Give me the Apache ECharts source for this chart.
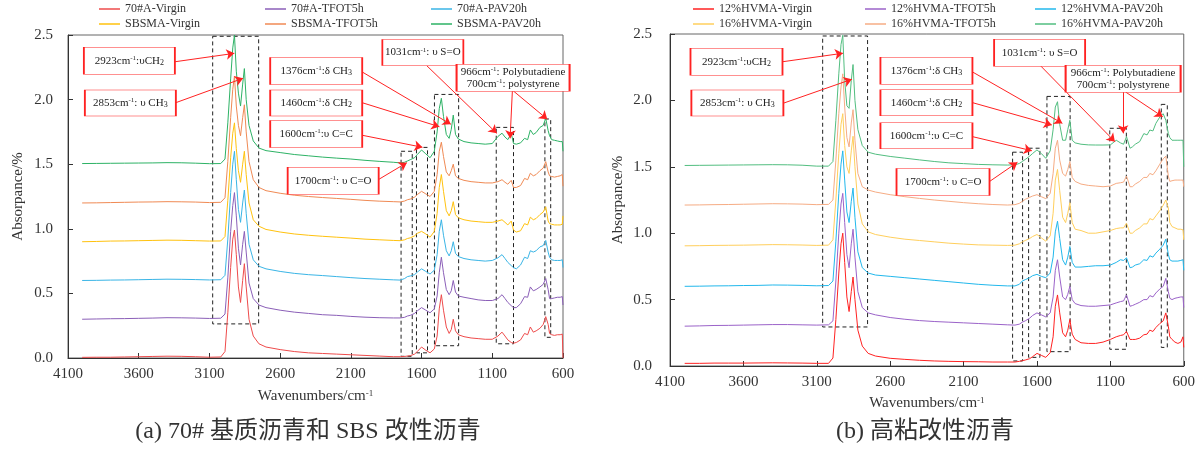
<!DOCTYPE html>
<html>
<head>
<meta charset="utf-8">
<script src="https://cdn.jsdelivr.net/npm/echarts@6/dist/echarts.min.js"></script>
<style>
  html, body { margin: 0; padding: 0; background: #fff; }
  #chart { width: 1198px; height: 450px; }
</style>
</head>
<body>
<div id="chart"></div>
<script>
// wavenumber grid shared by every spectrum (cm-1, high to low)
const wavenumbers = [
  4000, 3900, 3800, 3700, 3600, 3500, 3400, 3300, 3200, 3100,
  3020, 2990, 2970, 2950, 2935, 2923, 2910, 2895, 2880, 2865,
  2853, 2840, 2820, 2790, 2750, 2700, 2600, 2500, 2400, 2300,
  2200, 2100, 2000, 1900, 1800, 1750, 1720, 1700, 1680, 1650,
  1630, 1600, 1570, 1540, 1510, 1490, 1475, 1460, 1445, 1425,
  1405, 1390, 1376, 1360, 1340, 1300, 1250, 1200, 1150, 1100,
  1060, 1031, 1010, 990, 966, 950, 930, 900, 872, 850,
  831, 810, 790, 763, 740, 722, 705, 695, 680, 660,
  640, 620, 605, 600
]
const xTicks = [4100, 3600, 3100, 2600, 2100, 1600, 1100, 600]

// (a) 70# base asphalt and SBS modified asphalt
const namesA = ['70#A-Virgin', '70#A-TFOT5h', '70#A-PAV20h', 'SBSMA-Virgin', 'SBSMA-TFOT5h', 'SBSMA-PAV20h']
const a70Virgin = [
  0.005, 0.006, 0.006, 0.008, 0.010, 0.012, 0.014, 0.013, 0.010, 0.006,
  0.008, 0.05, 0.35, 0.70, 0.92, 0.99, 0.80, 0.55, 0.43, 0.60,
  0.73, 0.55, 0.30, 0.17, 0.11, 0.085, 0.065, 0.05, 0.04, 0.035,
  0.03, 0.025, 0.02, 0.015, 0.01, 0.01, 0.012, 0.015, 0.018, 0.03,
  0.05, 0.085, 0.06, 0.04, 0.07, 0.17, 0.38, 0.49, 0.37, 0.24,
  0.19, 0.22, 0.30, 0.21, 0.18, 0.165, 0.155, 0.15, 0.145, 0.145,
  0.17, 0.2, 0.17, 0.14, 0.12, 0.115, 0.12, 0.14, 0.19, 0.18,
  0.24, 0.2, 0.21, 0.23, 0.26, 0.32, 0.26, 0.19, 0.18, 0.175,
  0.18, 0.18, 0.185, 0.0
]
const a70Tfot = [
  0.300, 0.302, 0.304, 0.305, 0.307, 0.309, 0.312, 0.311, 0.309, 0.306,
  0.308, 0.34, 0.62, 0.98, 1.18, 1.28, 1.10, 0.85, 0.72, 0.88,
  0.98, 0.82, 0.58, 0.46, 0.41, 0.39, 0.37, 0.355, 0.345, 0.335,
  0.33, 0.322, 0.316, 0.312, 0.31, 0.31, 0.315, 0.325, 0.33, 0.345,
  0.365, 0.39, 0.37, 0.35, 0.38, 0.48, 0.66, 0.78, 0.66, 0.53,
  0.49, 0.52, 0.60, 0.51, 0.48, 0.47, 0.46, 0.45, 0.445, 0.445,
  0.46, 0.49, 0.46, 0.43, 0.405, 0.39, 0.39, 0.42, 0.475, 0.47,
  0.55, 0.52, 0.53, 0.55, 0.57, 0.615, 0.53, 0.46, 0.46, 0.465,
  0.47, 0.47, 0.475, 0.41
]
const a70Pav = [
  0.600, 0.601, 0.603, 0.604, 0.606, 0.608, 0.610, 0.609, 0.607, 0.604,
  0.606, 0.64, 0.92, 1.28, 1.50, 1.60, 1.38, 1.15, 1.05, 1.20,
  1.30, 1.12, 0.88, 0.76, 0.71, 0.69, 0.67, 0.655, 0.645, 0.638,
  0.63, 0.622, 0.615, 0.61, 0.605, 0.603, 0.615, 0.63, 0.635, 0.645,
  0.665, 0.69, 0.67, 0.65, 0.68, 0.80, 0.98, 1.07, 0.95, 0.83,
  0.79, 0.83, 0.90, 0.81, 0.785, 0.77, 0.76, 0.755, 0.75, 0.755,
  0.775, 0.80, 0.77, 0.74, 0.715, 0.70, 0.69, 0.72, 0.78, 0.77,
  0.83, 0.82, 0.83, 0.86, 0.87, 0.91, 0.82, 0.78, 0.76, 0.755,
  0.755, 0.755, 0.76, 0.70
]
const sbsVirgin = [
  0.900, 0.902, 0.905, 0.906, 0.908, 0.91, 0.912, 0.911, 0.908, 0.905,
  0.906, 0.94, 1.22, 1.55, 1.74, 1.82, 1.62, 1.45, 1.36, 1.50,
  1.60, 1.42, 1.20, 1.07, 1.02, 0.995, 0.975, 0.96, 0.95, 0.942,
  0.935, 0.928, 0.92, 0.915, 0.91, 0.908, 0.915, 0.925, 0.93, 0.945,
  0.965, 0.98, 0.96, 0.935, 0.98, 1.12, 1.32, 1.42, 1.29, 1.14,
  1.10, 1.14, 1.21, 1.11, 1.085, 1.07, 1.06, 1.055, 1.05, 1.05,
  1.06, 1.07, 1.05, 1.03, 1.06, 0.99, 0.975, 0.985, 1.04, 1.03,
  1.09, 1.07, 1.08, 1.11, 1.13, 1.17, 1.06, 1.04, 1.035, 1.03,
  1.03, 1.03, 1.035, 1.10
]
const sbsTfot = [
  1.200, 1.201, 1.203, 1.205, 1.207, 1.208, 1.21, 1.209, 1.207, 1.203,
  1.205, 1.24, 1.52, 1.86, 2.08, 2.18, 1.95, 1.80, 1.72, 1.86,
  1.96, 1.75, 1.52, 1.38, 1.32, 1.295, 1.275, 1.26, 1.25, 1.242,
  1.235, 1.228, 1.22, 1.214, 1.21, 1.208, 1.215, 1.225, 1.23, 1.245,
  1.265, 1.29, 1.27, 1.25, 1.29, 1.42, 1.60, 1.67, 1.56, 1.44,
  1.41, 1.45, 1.50, 1.41, 1.39, 1.375, 1.365, 1.36, 1.355, 1.355,
  1.365, 1.38, 1.36, 1.345, 1.375, 1.32, 1.32, 1.335, 1.39, 1.38,
  1.43, 1.41, 1.42, 1.45, 1.47, 1.52, 1.44, 1.41, 1.405, 1.40,
  1.405, 1.41, 1.42, 1.33
]
const sbsPav = [
  1.505, 1.506, 1.507, 1.508, 1.509, 1.51, 1.512, 1.511, 1.508, 1.504,
  1.505, 1.54, 1.82, 2.16, 2.40, 2.50, 2.22, 2.05, 1.95, 2.12,
  2.24, 2.0, 1.80, 1.68, 1.625, 1.605, 1.59, 1.575, 1.565, 1.555,
  1.547, 1.54, 1.53, 1.522, 1.515, 1.51, 1.515, 1.525, 1.535, 1.55,
  1.575, 1.61, 1.58, 1.55, 1.60, 1.75, 1.93, 2.01, 1.87, 1.73,
  1.70, 1.77, 1.88, 1.73, 1.695, 1.675, 1.665, 1.66, 1.655, 1.66,
  1.715, 1.74, 1.71, 1.69, 1.74, 1.66, 1.655, 1.665, 1.70, 1.69,
  1.765, 1.73, 1.745, 1.785, 1.80, 1.855, 1.76, 1.72, 1.69, 1.685,
  1.68, 1.675, 1.675, 1.60
]

// (b) high-viscosity modified asphalt
const namesB = ['12%HVMA-Virgin', '12%HVMA-TFOT5h', '12%HVMA-PAV20h', '16%HVMA-Virgin', '16%HVMA-TFOT5h', '16%HVMA-PAV20h']
const hv12Virgin = [
  0.02, 0.02, 0.022, 0.022, 0.022, 0.023, 0.024, 0.023, 0.022, 0.02,
  0.02, 0.06, 0.35, 0.70, 0.92, 1.00, 0.78, 0.52, 0.41, 0.56,
  0.67, 0.50, 0.27, 0.15, 0.095, 0.075, 0.058, 0.05, 0.043, 0.038,
  0.035, 0.033, 0.032, 0.03, 0.03, 0.03, 0.035, 0.04, 0.045, 0.055,
  0.07, 0.095, 0.08, 0.065, 0.1, 0.22, 0.45, 0.535, 0.40, 0.25,
  0.22, 0.27, 0.35, 0.24, 0.2, 0.175, 0.17, 0.17, 0.18, 0.2,
  0.22, 0.23, 0.235, 0.26, 0.2, 0.2, 0.2, 0.21, 0.235, 0.24,
  0.27, 0.26, 0.29, 0.32, 0.34, 0.40, 0.3, 0.22, 0.2, 0.18,
  0.17, 0.18, 0.22, 0.14
]
const hv12Tfot = [
  0.30, 0.302, 0.305, 0.306, 0.308, 0.31, 0.312, 0.312, 0.31, 0.308,
  0.31, 0.34, 0.64, 1.0, 1.22, 1.30, 1.08, 0.84, 0.74, 0.92,
  1.03, 0.82, 0.56, 0.44, 0.40, 0.385, 0.365, 0.352, 0.342, 0.335,
  0.33, 0.325, 0.32, 0.315, 0.31, 0.308, 0.315, 0.33, 0.34, 0.36,
  0.38, 0.40, 0.385, 0.37, 0.4, 0.52, 0.72, 0.80, 0.67, 0.52,
  0.5, 0.54, 0.60, 0.5, 0.47, 0.455, 0.45, 0.45, 0.455, 0.46,
  0.475, 0.485, 0.49, 0.535, 0.45, 0.455, 0.465, 0.48, 0.5, 0.5,
  0.53, 0.52, 0.55, 0.58, 0.6, 0.66, 0.56, 0.51, 0.5, 0.51,
  0.515, 0.52, 0.52, 0.44
]
const hv12Pav = [
  0.60, 0.601, 0.603, 0.604, 0.606, 0.607, 0.61, 0.609, 0.607, 0.604,
  0.606, 0.64, 0.94, 1.30, 1.52, 1.62, 1.40, 1.16, 1.08, 1.24,
  1.34, 1.12, 0.86, 0.74, 0.70, 0.685, 0.675, 0.665, 0.655, 0.645,
  0.635, 0.625, 0.615, 0.608, 0.603, 0.603, 0.615, 0.64, 0.65, 0.665,
  0.68, 0.69, 0.675, 0.665, 0.7, 0.82, 1.01, 1.09, 0.96, 0.80,
  0.76, 0.82, 0.90, 0.78, 0.745, 0.745, 0.75, 0.755, 0.755, 0.76,
  0.78, 0.80, 0.795, 0.815, 0.74, 0.745, 0.76, 0.77, 0.8, 0.795,
  0.83, 0.82, 0.85, 0.88, 0.91, 0.955, 0.84, 0.8, 0.79, 0.79,
  0.79, 0.795, 0.8, 0.72
]
const hv16Virgin = [
  0.905, 0.906, 0.908, 0.909, 0.91, 0.912, 0.914, 0.913, 0.911, 0.908,
  0.91, 0.95, 1.25, 1.60, 1.82, 1.90, 1.66, 1.50, 1.45, 1.62,
  1.73, 1.50, 1.22, 1.07, 1.01, 0.99, 0.97, 0.955, 0.945, 0.935,
  0.925, 0.918, 0.912, 0.91, 0.908, 0.91, 0.92, 0.935, 0.945, 0.96,
  0.975, 0.99, 0.965, 0.94, 0.98, 1.15, 1.40, 1.48, 1.32, 1.12,
  1.08, 1.15, 1.23, 1.08, 1.03, 1.02, 1.0, 1.0, 1.01, 1.02,
  1.035, 1.04, 1.04, 1.075, 1.0, 1.0, 1.02, 1.04, 1.07, 1.07,
  1.11, 1.10, 1.13, 1.17, 1.21, 1.25, 1.19, 1.08, 1.05, 1.04,
  1.03, 1.03, 1.025, 0.95
]
const hv16Tfot = [
  1.212, 1.213, 1.215, 1.216, 1.218, 1.22, 1.222, 1.221, 1.219, 1.215,
  1.217, 1.25, 1.55, 1.90, 2.10, 2.20, 1.95, 1.72, 1.65, 1.83,
  1.93, 1.70, 1.45, 1.35, 1.325, 1.31, 1.29, 1.275, 1.262, 1.25,
  1.24, 1.23, 1.222, 1.216, 1.212, 1.215, 1.225, 1.24, 1.255, 1.27,
  1.28, 1.29, 1.275, 1.26, 1.3, 1.45, 1.64, 1.70, 1.55, 1.45,
  1.43, 1.48, 1.54, 1.42, 1.39, 1.37, 1.36, 1.355, 1.35, 1.355,
  1.375, 1.38, 1.385, 1.43, 1.35, 1.35, 1.37, 1.39, 1.42, 1.42,
  1.45, 1.44, 1.47, 1.52, 1.56, 1.58, 1.43, 1.39, 1.395, 1.40,
  1.40, 1.40, 1.40, 1.35
]
const hv16Pav = [
  1.51, 1.511, 1.512, 1.513, 1.514, 1.515, 1.516, 1.515, 1.512, 1.505,
  1.505, 1.54, 1.85, 2.20, 2.42, 2.49, 2.15, 1.96, 1.94, 2.15,
  2.27, 2.00, 1.78, 1.66, 1.61, 1.595, 1.578, 1.565, 1.552, 1.54,
  1.53, 1.524, 1.518, 1.515, 1.513, 1.515, 1.525, 1.54, 1.555, 1.58,
  1.60, 1.627, 1.60, 1.564, 1.62, 1.78, 1.95, 1.99, 1.82, 1.70,
  1.70, 1.78, 1.85, 1.70, 1.68, 1.67, 1.665, 1.664, 1.664, 1.665,
  1.70, 1.68, 1.67, 1.727, 1.64, 1.65, 1.67, 1.69, 1.75, 1.74,
  1.777, 1.77, 1.827, 1.875, 1.90, 1.85, 1.75, 1.72, 1.70, 1.70,
  1.70, 1.70, 1.70, 1.50
]

const valuesA = [a70Virgin, a70Tfot, a70Pav, sbsVirgin, sbsTfot, sbsPav]
const valuesB = [hv12Virgin, hv12Tfot, hv12Pav, hv16Virgin, hv16Tfot, hv16Pav]
const colorsA = ['#EE4B4B', '#8B5FB8', '#3AB5E6', '#FFC20E', '#F08A54', '#2DB265']
const colorsB = ['#FF2222', '#9B63C9', '#22B8EC', '#FFCF5C', '#F6AC84', '#52BE80']

// annotations: dashed peak regions [wn1, y1, wn2, y2]
const regionsA = [[3077, 2.49, 2752, 0.264], [1745, 1.60, 1666, 0.013], [1636, 1.63, 1558, 0.04],
  [1509, 2.04, 1338, 0.095], [1072, 1.785, 950, 0.11], [728, 1.85, 687, 0.16]]
const regionsB = [[3060, 2.485, 2754, 0.294], [1766, 1.61, 1698, 0.038], [1657, 1.64, 1580, 0.065],
  [1532, 2.03, 1374, 0.108], [1104, 1.79, 991, 0.126], [753, 1.97, 712, 0.14]]

const noteTexts = [
  '2923cm{sup|-1}:υCH{sub|2}',
  '2853cm{sup|-1}: υ CH{sub|3}',
  '1376cm{sup|-1}:δ CH{sub|3}',
  '1460cm{sup|-1}:δ CH{sub|2}',
  '1600cm{sup|-1}:υ C=C',
  '1700cm{sup|-1}: υ C=O',
  '1031cm{sup|-1}: υ S=O',
  '966cm{sup|-1}: Polybutadiene\n700cm{sup|-1}: polystyrene'
]
// label boxes [wn, y, w, h]
const notesA = [[3666, 2.30, 91, 27], [3659, 1.974, 91, 26], [2345, 2.221, 92, 27], [2345, 1.974, 92, 26],
  [2345, 1.734, 92, 27], [2225, 1.372, 91, 27], [1591, 2.365, 81, 26], [953, 2.170, 113, 27]]
const notesB = [[3647, 2.291, 92, 27], [3641, 1.980, 92, 26], [2353, 2.223, 92, 27], [2353, 1.982, 92, 26],
  [2353, 1.733, 92, 26], [2240, 1.386, 93, 27], [1582, 2.359, 91, 27], [1013, 2.163, 115, 27]]
// arrows [wnFrom, yFrom, wnTo, yTo]
const arrowsA = [[3343, 2.293, 2924, 2.358], [3338, 1.976, 2862, 2.165], [2020, 2.214, 1393, 1.809],
  [2020, 1.976, 1474, 1.790], [2020, 1.724, 1594, 1.631], [1902, 1.383, 1704, 1.512],
  [1563, 2.262, 1068, 1.739], [958, 2.067, 974, 1.700], [951, 2.067, 711, 1.848]]
const arrowsB = [[3334, 2.291, 2922, 2.355], [3330, 1.978, 2861, 2.159], [2039, 2.214, 1427, 1.827],
  [2039, 1.983, 1499, 1.815], [2039, 1.727, 1635, 1.621], [1925, 1.388, 1733, 1.534],
  [1574, 2.259, 1069, 1.689], [1013, 2.063, 1013, 1.752], [996, 2.063, 743, 1.877]]

// legend layout: column x positions and row tops
const legendColsA = [99, 265, 431]
const legendColsB = [693, 865, 1035]
const legendRows = [3, 18]

const serif = '"Liberation Serif", "Times New Roman", serif'
const textColor = '#333'
const supSub = {
  sup: { fontSize: 7, lineHeight: 8, verticalAlign: 'top', fontFamily: serif, color: '#222' },
  sub: { fontSize: 8, lineHeight: 9, verticalAlign: 'bottom', fontFamily: serif, color: '#222' }
}

function markers(regions, notes, arrows) {
  return {
    markArea: {
      silent: true,
      label: { show: false },
      itemStyle: { color: 'rgba(0,0,0,0)', borderColor: '#222', borderWidth: 1, borderType: [4, 3] },
      data: regions.map(r => [{ coord: [r[0], r[1]] }, { coord: [r[2], r[3]] }])
    },
    markLine: {
      silent: true,
      symbol: ['none', 'arrow'],
      symbolSize: 8,
      label: { show: false },
      lineStyle: { color: '#F22', width: 1, type: 'solid' },
      data: arrows.map(a => [{ coord: [a[0], a[1]] }, { coord: [a[2], a[3]] }])
    },
    markPoint: {
      silent: true,
      symbol: 'rect',
      itemStyle: { color: '#fff', borderColor: '#F22', borderWidth: 1 },
      label: {
        show: true, position: 'inside', color: '#222', fontSize: 11,
        fontFamily: serif, lineHeight: 12, rich: supSub
      },
      data: notes.map((n, i) => ({
        coord: [n[0], n[1]], symbolSize: [n[2], n[3]],
        label: { formatter: noteTexts[i] }
      }))
    }
  }
}

function buildSeries(names, values, colors, idx, regions, notes, arrows) {
  return names.map((name, i) => Object.assign({
    name: name,
    type: 'line',
    xAxisIndex: idx,
    yAxisIndex: idx,
    showSymbol: false,
    symbol: 'none',
    color: colors[i],
    lineStyle: { width: 1, color: colors[i] },
    data: wavenumbers.map((w, k) => [w, values[i][k]])
  }, i === 0 ? markers(regions, notes, arrows) : {}))
}

function xAxis(idx, gap) {
  return {
    gridIndex: idx, type: 'value', inverse: true, min: 600, max: 4100,
    axisLine: { show: true, lineStyle: { color: '#333' } },
    axisTick: { show: true, inside: true, length: 5, customValues: xTicks, lineStyle: { color: '#333' } },
    axisLabel: { customValues: xTicks, margin: 9, fontSize: 15, fontFamily: serif, color: textColor,
      formatter: v => String(v) },
    splitLine: { show: false },
    name: 'Wavenumbers/cm{sup|-1}', nameLocation: 'middle', nameGap: gap,
    nameTextStyle: { fontSize: 15, fontFamily: serif, color: textColor,
      rich: { sup: { fontSize: 9, lineHeight: 9, verticalAlign: 'top', fontFamily: serif, color: textColor } } }
  }
}

function yAxis(idx, margin, gap) {
  return {
    gridIndex: idx, type: 'value', min: 0, max: 2.5, interval: 0.5,
    axisLine: { show: true, lineStyle: { color: '#333' } },
    axisTick: { show: true, inside: true, length: 5, lineStyle: { color: '#333' } },
    axisLabel: { margin: margin, fontSize: 15, fontFamily: serif, color: textColor, formatter: v => v.toFixed(1) },
    splitLine: { show: false },
    name: 'Absorpance/%', nameLocation: 'middle', nameGap: gap,
    nameTextStyle: { fontSize: 15, fontFamily: serif, color: textColor }
  }
}

// one legend per entry so the three columns line up like the original
function legends(names, cols) {
  return names.map((name, i) => ({
    data: [name], left: cols[i % 3], top: legendRows[Math.floor(i / 3)], padding: 0,
    icon: 'rect', itemWidth: 21, itemHeight: 1.5, itemTextGap: 4,
    selectedMode: false,
    textStyle: { fontSize: 12, fontFamily: serif, color: textColor }
  }))
}

const chart = echarts.init(document.getElementById('chart'))
chart.setOption({
  animation: false,
  backgroundColor: '#fff',
  grid: [
    { left: 68, top: 35, width: 495, height: 323, show: true, borderColor: '#666', borderWidth: 1 },
    { left: 670, top: 34, width: 514, height: 332, show: true, borderColor: '#666', borderWidth: 1 }
  ],
  xAxis: [xAxis(0, 31), xAxis(1, 30)],
  yAxis: [yAxis(0, 15, 42), yAxis(1, 18, 44)],
  legend: legends(namesA, legendColsA).concat(legends(namesB, legendColsB)),
  graphic: [
    { type: 'text', x: 308, y: 432, style: { text: '(a) 70# 基质沥青和 SBS 改性沥青', fontSize: 24,
      fontFamily: '"Liberation Serif", "Noto Sans CJK SC", serif', fill: textColor, align: 'center', verticalAlign: 'middle' } },
    { type: 'text', x: 925, y: 432, style: { text: '(b) 高粘改性沥青', fontSize: 24,
      fontFamily: '"Liberation Serif", "Noto Sans CJK SC", serif', fill: textColor, align: 'center', verticalAlign: 'middle' } }
  ],
  series: buildSeries(namesA, valuesA, colorsA, 0, regionsA, notesA, arrowsA)
    .concat(buildSeries(namesB, valuesB, colorsB, 1, regionsB, notesB, arrowsB))
})
</script>
</body>
</html>
